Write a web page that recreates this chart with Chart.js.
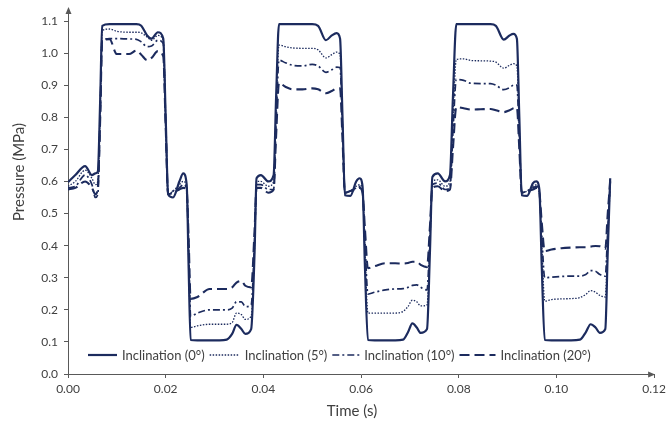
<!DOCTYPE html>
<html>
<head>
<meta charset="utf-8">
<script src="https://cdn.jsdelivr.net/npm/chart.js@4.4.1/dist/chart.umd.min.js"></script>
<style>
  body { margin: 0; background: #fff; }
</style>
</head>
<body>
<canvas id="pressure" width="670" height="423"></canvas>
<script>
// time (s), shared by all four series
var times = [
  0, 0.0015, 0.0035, 0.0049, 0.0056, 0.0061, 0.0066, 0.0070,
  0.0085, 0.0100, 0.0125, 0.0140, 0.0150, 0.0162, 0.0171, 0.0184, 0.0195,
  0.0200, 0.0205, 0.0215, 0.0228, 0.0236, 0.0243, 0.0247, 0.0251,
  0.0265, 0.0290, 0.0310, 0.0325, 0.0336, 0.0345, 0.0355, 0.0363, 0.0375,
  0.0382, 0.0386, 0.0395, 0.0410, 0.0421, 0.0426, 0.0432,
  0.0445, 0.0460, 0.0480, 0.0500, 0.0512, 0.0528, 0.0540, 0.0550, 0.0557,
  0.0562, 0.0567, 0.0578, 0.0590, 0.0597, 0.0603, 0.0608, 0.0614,
  0.0628, 0.0650, 0.0670, 0.0686, 0.0696, 0.0705, 0.0714, 0.0722, 0.0735,
  0.0741, 0.0746, 0.0757, 0.0772, 0.0782, 0.0788, 0.0795,
  0.0810, 0.0825, 0.0845, 0.0865, 0.0876, 0.0892, 0.0904, 0.0912, 0.0919,
  0.0924, 0.0929, 0.0940, 0.0952, 0.0959, 0.0965, 0.0970, 0.0976,
  0.0990, 0.1010, 0.1030, 0.1048, 0.1060, 0.1070, 0.1080, 0.1089, 0.1100,
  0.1105, 0.1110
];

// pressure (MPa)
var inc0 = [
  0.598, 0.62, 0.648, 0.62, 0.625, 0.63, 0.86, 1.085,
  1.09, 1.09, 1.09, 1.09, 1.085, 1.055, 1.045, 1.065, 1.045,
  0.80, 0.56, 0.55, 0.60, 0.625, 0.59, 0.33, 0.106,
  0.105, 0.105, 0.105, 0.107, 0.125, 0.153, 0.14, 0.125, 0.14,
  0.38, 0.61, 0.62, 0.60, 0.62, 0.86, 1.09,
  1.09, 1.09, 1.09, 1.09, 1.085, 1.04, 1.055, 1.062, 1.045,
  0.80, 0.557, 0.555, 0.60, 0.61, 0.585, 0.33, 0.106,
  0.105, 0.105, 0.105, 0.107, 0.13, 0.158, 0.145, 0.128, 0.14,
  0.38, 0.614, 0.625, 0.60, 0.62, 0.86, 1.09,
  1.09, 1.09, 1.09, 1.09, 1.085, 1.042, 1.055, 1.06, 1.045,
  0.80, 0.557, 0.555, 0.595, 0.60, 0.575, 0.33, 0.106,
  0.105, 0.105, 0.105, 0.107, 0.13, 0.155, 0.145, 0.128, 0.14,
  0.38, 0.61
];
var inc5 = [
  0.585, 0.60, 0.635, 0.61, 0.59, 0.60, 0.84, 1.07,
  1.075, 1.068, 1.065, 1.065, 1.063, 1.05, 1.04, 1.055, 1.04,
  0.79, 0.56, 0.57, 0.59, 0.60, 0.585, 0.36, 0.145,
  0.15, 0.155, 0.155, 0.155, 0.16, 0.19, 0.185, 0.17, 0.18,
  0.40, 0.60, 0.60, 0.585, 0.60, 0.82, 1.025,
  1.02, 1.016, 1.015, 1.015, 1.01, 0.985, 0.995, 1.003, 0.995,
  0.78, 0.565, 0.57, 0.585, 0.59, 0.575, 0.38, 0.19,
  0.19, 0.19, 0.19, 0.195, 0.21, 0.23, 0.225, 0.212, 0.215,
  0.41, 0.60, 0.605, 0.585, 0.60, 0.79, 0.98,
  0.982, 0.977, 0.976, 0.975, 0.972, 0.953, 0.962, 0.967, 0.96,
  0.76, 0.565, 0.57, 0.585, 0.59, 0.57, 0.40, 0.227,
  0.232, 0.234, 0.235, 0.238, 0.248, 0.26, 0.255, 0.245, 0.24,
  0.42, 0.60
];
var inc10 = [
  0.58, 0.585, 0.62, 0.59, 0.55, 0.56, 0.80, 1.04,
  1.045, 1.045, 1.044, 1.043, 1.035, 1.02, 1.022, 1.04, 1.03,
  0.78, 0.56, 0.57, 0.58, 0.59, 0.575, 0.40, 0.18,
  0.19, 0.20, 0.20, 0.20, 0.205, 0.225, 0.225, 0.21, 0.215,
  0.42, 0.59, 0.59, 0.575, 0.575, 0.78, 0.978,
  0.97, 0.962, 0.96, 0.965, 0.96, 0.94, 0.948, 0.956, 0.955,
  0.76, 0.565, 0.57, 0.58, 0.585, 0.57, 0.41, 0.249,
  0.255, 0.262, 0.265, 0.266, 0.27, 0.276, 0.278, 0.27, 0.262,
  0.43, 0.59, 0.595, 0.575, 0.58, 0.75, 0.918,
  0.915, 0.906, 0.905, 0.905, 0.90, 0.886, 0.892, 0.90, 0.90,
  0.73, 0.565, 0.57, 0.58, 0.585, 0.565, 0.43, 0.30,
  0.302, 0.304, 0.305, 0.305, 0.31, 0.322, 0.32, 0.31, 0.305,
  0.45, 0.59
];
var inc20 = [
  0.575, 0.58, 0.60, 0.58, 0.56, 0.58, 0.80, 1.04,
  1.043, 0.997, 0.997, 1.008, 0.995, 0.978, 0.985, 1.006, 0.99,
  0.77, 0.56, 0.565, 0.575, 0.58, 0.57, 0.42, 0.234,
  0.24, 0.265, 0.265, 0.265, 0.27, 0.285, 0.29, 0.275, 0.27,
  0.45, 0.58, 0.58, 0.565, 0.575, 0.74, 0.907,
  0.895, 0.887, 0.887, 0.89, 0.887, 0.875, 0.882, 0.89, 0.89,
  0.73, 0.565, 0.57, 0.575, 0.58, 0.565, 0.45, 0.33,
  0.336, 0.345, 0.345, 0.344, 0.346, 0.35, 0.35, 0.34, 0.333,
  0.46, 0.58, 0.585, 0.57, 0.575, 0.70, 0.832,
  0.828, 0.824, 0.825, 0.826, 0.822, 0.816, 0.822, 0.828, 0.83,
  0.70, 0.565, 0.57, 0.575, 0.58, 0.565, 0.47, 0.383,
  0.388, 0.392, 0.394, 0.395, 0.395, 0.397, 0.399, 0.398, 0.39,
  0.50, 0.60
];

var seriesNames = ['Inclination (0°)', 'Inclination (5°)', 'Inclination (10°)', 'Inclination (20°)'];
var xTitle = 'Time (s)';
var yTitle = 'Pressure (MPa)';

var navy = '#1c2b5e';
var axisColor = '#595959';
var textColor = '#404040';
var font = 'Lato, "Open Sans", sans-serif';

function pts(vals) {
  return times.map((t, i) => ({ x: t, y: vals[i] }));
}

function line(label, vals, width, dash) {
  return {
    label: label,
    data: pts(vals),
    borderColor: navy,
    backgroundColor: navy,
    borderWidth: width,
    borderDash: dash,
    pointRadius: 0,
    cubicInterpolationMode: 'monotone',
    fill: false
  };
}

// axis arrows, axis titles and the legend sitting inside the plot
var extras = {
  id: 'extras',
  afterDraw(chart) {
    var ctx = chart.ctx, a = chart.chartArea;
    ctx.save();
    ctx.strokeStyle = axisColor;
    ctx.fillStyle = axisColor;
    ctx.lineWidth = 1;
    var lx = Math.round(a.left) + 0.5;
    ctx.beginPath();
    ctx.moveTo(lx, a.top);
    ctx.lineTo(lx, a.top - 10);
    ctx.stroke();
    ctx.beginPath();
    ctx.moveTo(lx - 3, a.top - 7);
    ctx.lineTo(lx + 3, a.top - 7);
    ctx.lineTo(lx, a.top - 14);
    ctx.closePath();
    ctx.fill();
    var by = Math.round(a.bottom) + 0.5;
    ctx.beginPath();
    ctx.moveTo(a.right - 6, by - 3);
    ctx.lineTo(a.right - 6, by + 3);
    ctx.lineTo(a.right + 1, by);
    ctx.closePath();
    ctx.fill();

    // axis titles
    ctx.fillStyle = textColor;
    ctx.font = '15px ' + font;
    ctx.textAlign = 'center';
    ctx.textBaseline = 'middle';
    ctx.fillText(xTitle, 352, 411);
    ctx.save();
    ctx.translate(19, 172);
    ctx.rotate(-Math.PI / 2);
    ctx.fillText(yTitle, 0, 0);
    ctx.restore();

    // legend
    var y = 355;
    var x = 88;
    var lens = [29, 30, 27, 36];
    ctx.font = '13px ' + font;
    ctx.textAlign = 'left';
    chart.data.datasets.forEach((ds, i) => {
      ctx.strokeStyle = ds.borderColor;
      ctx.lineWidth = ds.borderWidth;
      ctx.setLineDash(ds.borderDash || []);
      ctx.beginPath();
      ctx.moveTo(x, y);
      ctx.lineTo(x + lens[i], y);
      ctx.stroke();
      ctx.setLineDash([]);
      x += lens[i] + 5;
      ctx.fillStyle = textColor;
      ctx.fillText(ds.label, x, y + 1);
      x += ctx.measureText(ds.label).width + 5;
    });
    ctx.restore();
  }
};

var ctx = document.getElementById('pressure').getContext('2d');
var chart = new Chart(ctx, {
  type: 'line',
  data: {
    datasets: [
      line(seriesNames[0], inc0, 2.2, []),
      line(seriesNames[1], inc5, 1.3, [1.5, 1.5]),
      line(seriesNames[2], inc10, 1.7, [7, 3, 2, 3]),
      line(seriesNames[3], inc20, 2.1, [10, 5])
    ]
  },
  options: {
    responsive: false,
    animation: false,
    layout: { padding: { top: 21, right: 14, left: 0, bottom: 0 } },
    plugins: {
      legend: { display: false },
      tooltip: { enabled: false }
    },
    scales: {
      x: {
        type: 'linear',
        min: 0,
        max: 0.12,
        ticks: {
          stepSize: 0.02,
          color: textColor,
          font: { family: font, size: 12 },
          padding: 4,
          callback: v => v.toFixed(2)
        },
        grid: { drawOnChartArea: false, tickLength: 4, color: axisColor },
        border: { color: axisColor },
        afterFit: s => { s.height = 49; }
      },
      y: {
        min: 0,
        max: 1.1,
        ticks: {
          stepSize: 0.1,
          color: textColor,
          font: { family: font, size: 12 },
          padding: 6,
          callback: v => v.toFixed(1)
        },
        grid: { drawOnChartArea: false, tickLength: 4, color: axisColor },
        border: { color: axisColor },
        afterFit: s => { s.width = 68; }
      }
    }
  },
  plugins: [extras]
});
</script>
</body>
</html>
